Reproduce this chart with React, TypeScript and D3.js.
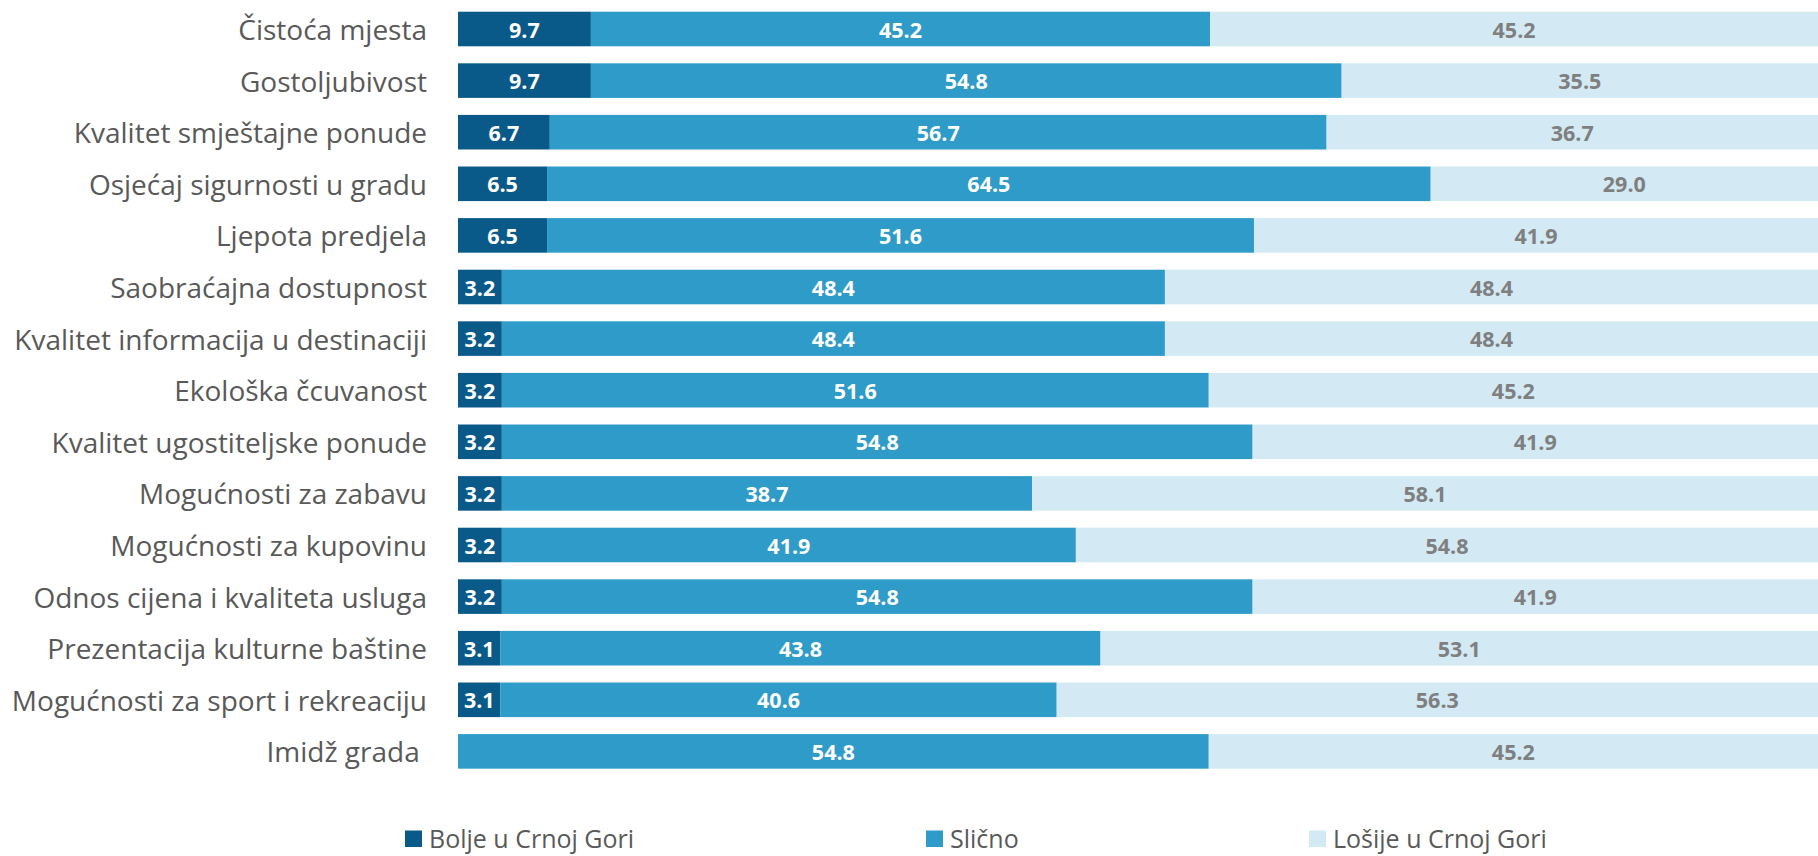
import React from "react";
import * as d3 from "d3";

const categories = [
  "Čistoća mjesta",
  "Gostoljubivost",
  "Kvalitet smještajne ponude",
  "Osjećaj sigurnosti u gradu",
  "Ljepota predjela",
  "Saobraćajna dostupnost",
  "Kvalitet informacija u destinaciji",
  "Ekološka čcuvanost",
  "Kvalitet ugostiteljske ponude",
  "Mogućnosti za zabavu",
  "Mogućnosti za kupovinu",
  "Odnos cijena i kvaliteta usluga",
  "Prezentacija kulturne baštine",
  "Mogućnosti za sport i rekreaciju",
  "Imidž grada ",
];

const bolje = [9.7, 9.7, 6.7, 6.5, 6.5, 3.2, 3.2, 3.2, 3.2, 3.2, 3.2, 3.2, 3.1, 3.1, 0];
const slicno = [45.2, 54.8, 56.7, 64.5, 51.6, 48.4, 48.4, 51.6, 54.8, 38.7, 41.9, 54.8, 43.8, 40.6, 54.8];
const losije = [45.2, 35.5, 36.7, 29.0, 41.9, 48.4, 48.4, 45.2, 41.9, 58.1, 54.8, 41.9, 53.1, 56.3, 45.2];

const seriesNames = ["Bolje u Crnoj Gori", "Slično", "Lošije u Crnoj Gori"];
const seriesColors = ["#0a5a89", "#2e9bc9", "#d3eaf5"];
const labelColors = ["#ffffff", "#ffffff", "#7f7f7f"];

const W = 1818;
const H = 856;
const FONT = "'Open Sans', 'Noto Sans', sans-serif";

export default function App() {
  const rows = categories.map((c, i) => ({
    cat: c,
    vals: [bolje[i], slicno[i], losije[i]],
  }));

  const x = d3.scaleLinear().domain([0, 100]).range([458, 1828]);
  const y = d3
    .scaleBand<string>()
    .domain(categories)
    .range([3.2, 3.2 + 15 * 51.6])
    .paddingInner(0.33)
    .paddingOuter(0.165);

  const legendX = [405, 926, 1309];

  return (
    <svg
      width={W}
      height={H}
      style={{ position: "absolute", left: 0, top: 0, background: "#fff" }}
      fontFamily={FONT}
    >
      {rows.map((r, i) => {
        let acc = 0;
        const y0 = y(r.cat)!;
        const bw = y.bandwidth();
        return (
          <g key={i}>
            <text
              x={427}
              y={y0 + bw / 2}
              textAnchor="end"
              dominantBaseline="central"
              fontSize={28}
              fill="#595959"
              style={{ whiteSpace: "pre" }}
            >
              {r.cat}
            </text>
            {r.vals.map((v, s) => {
              const a = acc;
              acc += v;
              if (v <= 0) return null;
              const x0 = x(a);
              const x1 = x(a + v);
              const cx = (x0 + Math.min(x1, W)) / 2;
              return (
                <g key={s}>
                  <rect x={x0} y={y0} width={x1 - x0} height={bw} fill={seriesColors[s]} />
                  <text
                    x={cx}
                    y={y0 + bw / 2}
                    textAnchor="middle"
                    dominantBaseline="central"
                    fontSize={21.5}
                    fontWeight="bold"
                    fill={labelColors[s]}
                  >
                    {v.toFixed(1)}
                  </text>
                </g>
              );
            })}
          </g>
        );
      })}
      {seriesNames.map((n, s) => (
        <g key={n}>
          <rect x={legendX[s]} y={830.5} width={17} height={16.5} fill={seriesColors[s]} />
          <text
            x={legendX[s] + 24}
            y={837.5}
            dominantBaseline="central"
            fontSize={25}
            fill="#595959"
          >
            {n}
          </text>
        </g>
      ))}
    </svg>
  );
}
